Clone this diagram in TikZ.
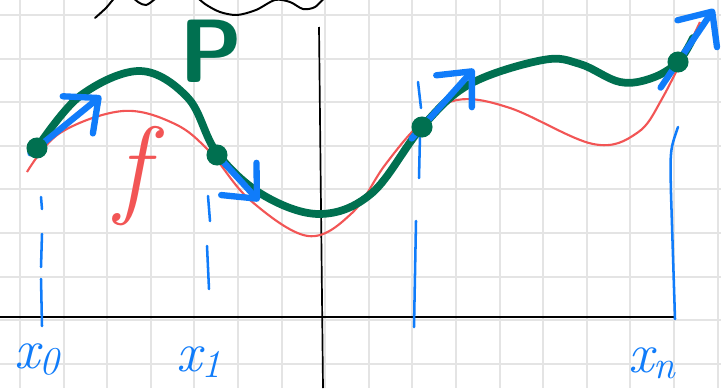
\documentclass[tikz,border=0pt]{standalone}
\usepackage{tikz}
\usetikzlibrary{arrows.meta}
\definecolor{pgreen}{RGB}{0,112,80}
\definecolor{fred}{RGB}{242,85,85}
\definecolor{nblue}{RGB}{16,124,250}
\definecolor{gridgray}{RGB}{228,228,228}
\newcommand{\sub}[1]{\raisebox{-0.12em}{\fontsize{28}{28}\selectfont #1}}

\begin{document}
\begin{tikzpicture}[x=0.025cm,y=-0.025cm,
  tangent/.style={nblue,line width=4.5pt,line cap=round,-{Straight Barb[length=19pt,width=34pt,round]}},
  knot/.style={circle,fill=pgreen,inner sep=0pt,minimum size=15pt},
  guide/.style={nblue,line width=1.8pt,line cap=round},
  xlabel/.style={text=nblue,font=\fontsize{40}{40}\selectfont\itshape,inner sep=0pt,anchor=base west}]
\useasboundingbox (0,0) rectangle (721,388);
\clip (0,0) rectangle (721,388);
\fill[white] (0,0) rectangle (721,388);
% grid
\foreach \i in {0,...,16} \draw[gridgray,line width=1.3pt] (20+43.6*\i,0) -- (20+43.6*\i,388);
\foreach \j in {0,...,8} \draw[gridgray,line width=1.3pt] (0,15+43.6*\j) -- (721,15+43.6*\j);
% axes
\draw[line width=1.4pt] (0,317) -- (675,317);
\draw[line width=1.2pt] (319,27) -- (323,388);
% scribble at the top
\draw[line width=1.4pt,line cap=round] plot[smooth] coordinates {(95,18) (106,8) (116,-3) (128,-6) (138,2) (146,5) (155,-1) (170,-14) (190,-8) (205,4) (220,12) (237,15) (256,10) (275,0) (290,2) (303,9) (315,7) (326,-4)};
% f
\draw[fred,line width=1.5pt] plot[smooth,tension=0.6] coordinates {(27,172) (60,133) (123,111) (175,124) (210,152) (250,200) (308,236) (352,213) (385,165) (420,124) (457,100) (510,108) (593,144) (637,133) (663,97) (700,22)};
% nodes x_i
\draw[guide] (41,197) -- (42,209);
\draw[guide] (42,234) -- (41,267);
\draw[guide] (41,279) -- (42,326);
\draw[guide] (208,196) -- (210,221);
\draw[guide] (207,246) -- (209,289);
\draw[guide] (418,82) -- (421,108);
\draw[guide] (420,135) -- (419,178);
\draw[guide] (416,221) -- (414,327);
\draw[guide] (678,127) .. controls (670,150) .. (671,194) -- (675,319);
% P
\draw[pgreen,line width=5.5pt,line cap=round] plot[smooth,tension=0.6] coordinates {(37,148) (80,96) (140,71) (188,98) (217,153) (263,195) (320,214) (372,193) (422,127) (470,84) (543,60) (580,64) (620,82) (652,78) (678,62) (693,38)};
\coordinate (d0) at (37,148);
\coordinate (d1) at (217,155);
\coordinate (d2) at (422,127);
\coordinate (d3) at (678,62);
% tangents
\coordinate (t0) at (101,96);
\coordinate (t1) at (259,201);
\coordinate (t2) at (474,69);
\coordinate (t3) at (714,9);
\draw[tangent,shorten <=-6pt] (d0) -- (t0);
\draw[tangent,shorten <=-4pt] (d1) -- (t1);
\draw[tangent,shorten <=-11pt] (d2) -- (t2);
\draw[tangent,shorten <=-22pt] (d3) -- (t3);
\node[knot] (k0) at (d0) {};
\node[knot] (k1) at (d1) {};
\node[knot] (k2) at (d2) {};
\node[knot] (k3) at (d3) {};
% labels
\node[text=pgreen,font=\fontsize{64}{64}\selectfont\sffamily\bfseries] (plabel) at (211,51) {P};
\node[text=fred,font=\fontsize{78}{78}\selectfont\itshape] (flabel) at (132,176) {f};
\node[xlabel] (x0) at (14,368) {x\sub{0}};
\node[xlabel] (x1) at (176,371) {x\sub{1}};
\node[xlabel] (xn) at (628,372) {x\sub{n}};
\end{tikzpicture}
\end{document}
